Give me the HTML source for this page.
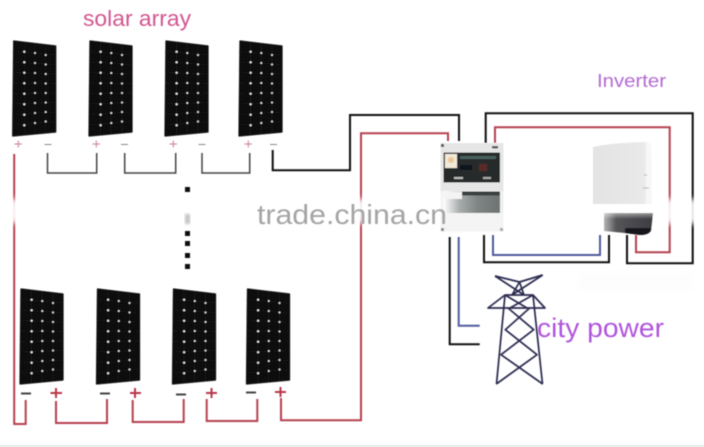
<!DOCTYPE html>
<html><head><meta charset="utf-8"><style>
html,body{margin:0;padding:0;background:#fff;width:704px;height:447px;overflow:hidden}
svg{display:block}
text{font-family:"Liberation Sans",sans-serif}
</style></head><body>
<svg width="704" height="447" viewBox="0 0 704 447" xmlns="http://www.w3.org/2000/svg">
<defs>
<filter id="s" x="-5%" y="-5%" width="110%" height="110%"><feGaussianBlur stdDeviation="0.45"/></filter>
<filter id="b" x="-50%" y="-50%" width="200%" height="200%"><feGaussianBlur stdDeviation="3"/></filter>
<filter id="b2" x="-20%" y="-20%" width="140%" height="140%"><feGaussianBlur stdDeviation="1.200"/></filter>
<linearGradient id="dk" x1="0" x2="1" y1="0" y2="0"><stop offset="0" stop-color="#b5b5b5"/><stop offset=".25" stop-color="#555558"/><stop offset="1" stop-color="#3c3c42"/></linearGradient>
<linearGradient id="dkv" x1="0" x2="0" y1="0" y2="1"><stop offset="0" stop-color="#fff" stop-opacity=".55"/><stop offset=".35" stop-color="#fff" stop-opacity="0"/></linearGradient>
<linearGradient id="inv" x1="0" x2="1" y1="0" y2="0"><stop offset="0" stop-color="#e2e3e2"/><stop offset=".85" stop-color="#e9e9e9"/><stop offset="1" stop-color="#f6f6f6"/></linearGradient>
<linearGradient id="cb" x1="0" x2="1" y1="0" y2="0"><stop offset="0" stop-color="#fff"/><stop offset=".28" stop-color="#a8adac"/><stop offset=".6" stop-color="#7f8584"/><stop offset="1" stop-color="#6d7372"/></linearGradient>
<g id="p">
<path d="M1 0 L43 5 L43 91 L0 95 Z" fill="#080808" stroke="#080808" stroke-width="1.200" stroke-linejoin="round"/>
<g stroke="#222" stroke-width=".5" fill="none"><path d="M11.500 1V94M22 2.500V93M33 4V92"/><path d="M0 10.500L43 14M0 21L43 23.500M0 31.500L43 33M0 42L43 42.500M0 52.500L43 52M0 63L43 61.500M0 73.500L43 71M0 84L43 80.500"/></g>
<g fill="#fff">
<circle cx="11.600" cy="10.700" r="1"/><circle cx="11.600" cy="21.200" r="1"/><circle cx="11.600" cy="31.700" r="1"/><circle cx="11.600" cy="42.200" r="1"/><circle cx="11.600" cy="52.700" r="1"/><circle cx="11.600" cy="63.200" r="1"/><circle cx="11.600" cy="73.700" r="1"/><circle cx="11.600" cy="84.200" r="1"/>
<circle cx="22.300" cy="12" r=".9"/><circle cx="22.300" cy="22" r=".9"/><circle cx="22.300" cy="32" r=".9"/><circle cx="22.300" cy="42" r=".9"/><circle cx="22.300" cy="52" r=".9"/><circle cx="22.300" cy="62" r=".9"/><circle cx="22.300" cy="72" r=".9"/><circle cx="22.300" cy="82" r=".9"/>
<circle cx="33" cy="14" r=".9"/><circle cx="33" cy="23.500" r=".9"/><circle cx="33" cy="33" r=".9"/><circle cx="33" cy="42.500" r=".9"/><circle cx="33" cy="52" r=".9"/><circle cx="33" cy="61.500" r=".9"/><circle cx="33" cy="71" r=".9"/><circle cx="33" cy="80.500" r=".9"/>
</g></g>
</defs>

<rect width="704" height="447" fill="#fff"/>
<g filter="url(#s)">
<use href="#p" x="12.700" y="41"/><use href="#p" x="89" y="41"/><use href="#p" x="165" y="41"/><use href="#p" x="239" y="41"/>
<use href="#p" x="20" y="289"/><use href="#p" x="96.500" y="289"/><use href="#p" x="172.500" y="289"/><use href="#p" x="246.500" y="289"/>

<g stroke-width="1" fill="none">
<g stroke="#c8808a"><path d="M14.500 144H22M18.300 140.500V147.500M92.500 144H100M96.300 140.500V147.500M169.500 144H177M173.300 140.500V147.500M244.500 144H252M248.300 140.500V147.500"/></g>
<g stroke="#888"><path d="M44.500 144.500H51.500M121 144.500H128M198.500 144.500H205.500M270 144.500H277"/></g>
</g>
<g stroke="#444" stroke-width="2" fill="none"><path d="M21 393.500H31M100 393.500H110M176 394.500H186M246 392.500H256"/></g>
<g stroke="#b8374a" stroke-width="2" fill="none"><path d="M50.500 393H62M56 388V398M130 393H141M135 388V398M206 393H217M211.500 388V398M275 392H286M280.500 387V397"/></g>

<g fill="none" stroke-width="1.500">
<path stroke="#444" d="M47.500 153V173H96.700V153M124.700 153V173H175.700V153M202 153V173H249.700V153"/>
<path stroke="#111" stroke-width="2" d="M272.700 150V170.300H350V115H459V141"/>
<path stroke="#b5414f" stroke-width="2" d="M14.200 154V424H25.700V400M281 398V420.300H361V133.300H448V141"/>
<path stroke="#b5414f" stroke-width="2" d="M56 401V423H107V399M132.700 400V422H183.700V399M206.700 399V421H257.300V399"/>
<path stroke="#111" stroke-width="2" d="M485.700 143V113.300H692.700V263.300H627V235M484 235V262.300H609V235M449.700 237V344.300H479.700"/>
<path stroke="#b5414f" stroke-width="2" d="M495 143V127.300H669.700V252.300H636V235"/>
<path stroke="#4f5a9c" stroke-width="2" d="M493 235V255H600V235M458.700 237V325.700H479.700"/>
</g>

<g fill="#0c0c0c">
<rect x="185" y="187" width="5" height="5"/><rect x="185" y="231" width="5" height="5"/><rect x="185" y="241" width="5" height="5"/><rect x="185" y="253" width="5" height="5"/><rect x="185" y="264" width="5" height="5"/>
</g>
</g>

<!-- watermark band over wires -->
<g fill="#fff" filter="url(#b)" opacity=".9">
<rect x="6" y="199" width="18" height="24"/>
<rect x="353" y="199" width="16" height="24"/>
<rect x="662" y="199" width="16" height="25"/>
<rect x="685" y="199" width="15" height="25"/>
</g>
<rect x="185" y="214" width="5" height="10" fill="#c4c4c4" filter="url(#b2)"/>

<g filter="url(#s)">
<!-- combiner box -->
<rect x="440.500" y="143" width="63" height="48" fill="#e6e6e6"/>
<rect x="440.500" y="191" width="4" height="41" fill="#f4f4f4"/>
<rect x="440.500" y="213" width="63" height="18.500" fill="#f4f4f4"/>
<rect x="500" y="191" width="3.500" height="22" fill="#f0f0f0"/>
<rect x="443.500" y="152.500" width="56.500" height="30" fill="#262c2b"/>
<rect x="445" y="154" width="12" height="14" fill="#f1e8d8"/>
<circle cx="451" cy="160" r="3" fill="#ecc696"/>
<rect x="460" y="156" width="36" height="3" fill="#47605c"/>
<rect x="460" y="165" width="12" height="5" fill="#10151a"/>
<rect x="479" y="164" width="8" height="7" fill="#5a2a2a"/>
<rect x="454" y="177" width="9" height="2" fill="#bbb"/><rect x="483" y="177" width="8" height="2" fill="#aaa"/>
<rect x="443.500" y="191.500" width="56.500" height="21.500" fill="url(#cb)"/>
<rect x="462" y="191.500" width="38" height="4" fill="#3a403f"/>
<rect x="444" y="192" width="18" height="7" fill="#f4f4f4"/>
<rect x="441" y="144" width="3" height="3" fill="#555"/><rect x="492" y="146" width="6" height="2.500" fill="#555"/>
<rect x="441" y="228" width="3" height="3" fill="#888"/><rect x="500" y="228" width="3" height="3" fill="#aaa"/>

<!-- inverter -->
<path d="M593 147 Q610 143 646 142 L651 144 L652 204 L593 204 Z" fill="url(#inv)"/>
<path d="M646 142 L651 144 L652 204 L646 204 Z" fill="#f7f7f7"/>
<path d="M644 175h3M643 188h6" stroke="#b5b5b5" stroke-width="1"/>
<path d="M604 213 H653 L651 231 Q648 235 640 235 L625 233 L604 231 Z" fill="url(#dk)"/>
<path d="M625 228 H651 L650 232 Q647 235 640 235 L625 233 Z" fill="#15181c"/>
<rect x="600" y="212" width="55" height="20" fill="url(#dkv)"/>

<!-- tower -->
<g fill="none" stroke="#2b2c50" stroke-width="1.700" stroke-linejoin="round">
<path d="M495 276 L519.500 282 L542.700 275"/>
<path d="M495 276 L524 295M542.700 275 L512 295"/>
<path d="M512 295 L519.500 282 L524 295"/>
<path d="M488 308 L505 295 H533 L545 308 Z"/>
<path d="M505 295 L496.500 384M533 295 L542.500 384"/>
<path d="M505 295 L527 308M533 295 L510 308"/>
<path d="M508 308 L533.700 329.700 L501 354.700 L542.700 384"/>
<path d="M529.700 308 L505.300 329.700 L537 354.700 L496.300 384"/>
</g>
</g>

<rect x="578" y="272" width="115" height="18" fill="#f4f4f4" opacity=".2" filter="url(#b)"/>
<rect x="0" y="445" width="704" height="2" fill="#ececec"/>

<g filter="url(#s)">
<text x="257" y="224" font-size="28" fill="#a4a4a4" textLength="190" lengthAdjust="spacingAndGlyphs">trade.china.cn</text>
<text x="83" y="26" font-size="22" fill="#d2558f" textLength="108" lengthAdjust="spacingAndGlyphs">solar array</text>
<text x="597" y="87" font-size="18.500" fill="#b36ad2" textLength="69" lengthAdjust="spacingAndGlyphs">Inverter</text>
<text x="537" y="337" font-size="27" fill="#b054dc" textLength="127" lengthAdjust="spacingAndGlyphs">city power</text>
</g>
</svg>
</body></html>
